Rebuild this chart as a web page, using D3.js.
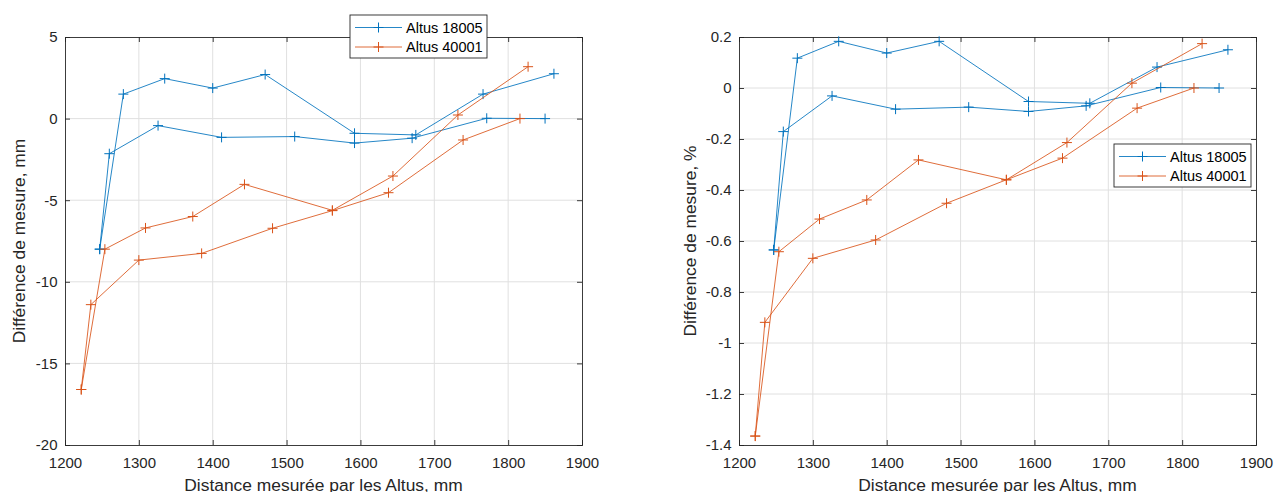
<!DOCTYPE html>
<html>
<head>
<meta charset="utf-8">
<script src="https://cdn.jsdelivr.net/npm/d3@7"></script>
<style>
  body { margin: 0; background: #fff; }
  svg { display: block; }
  svg text { font-family: "Liberation Sans", Arial, sans-serif; }
</style>
</head>
<body>
<div id="chart"></div>
<script>
// distances measured by each Altus (two runs each)
const dist18005a = [1247, 1279, 1335, 1400, 1471, 1592, 1675, 1766, 1862];
const dist18005b = [1247, 1260, 1326, 1412, 1511, 1592, 1670, 1771, 1850];
const dist40001a = [1222, 1254, 1309, 1373, 1443, 1562, 1644, 1732, 1827];
const dist40001b = [1222, 1235, 1300, 1385, 1481, 1562, 1638, 1739, 1816];

// difference in mm
const mm18005a = [-8.0, 1.5, 2.45, 1.87, 2.7, -0.9, -1.0, 1.5, 2.75];
const mm18005b = [-8.0, -2.15, -0.43, -1.15, -1.1, -1.5, -1.2, 0.02, 0.0];
const mm40001a = [-16.6, -8.0, -6.7, -6.0, -4.03, -5.62, -3.52, 0.22, 3.18];
const mm40001b = [-16.6, -11.4, -8.67, -8.26, -6.72, -5.64, -4.54, -1.31, 0.0];

// difference in %
const pct18005a = [-0.635, 0.117, 0.183, 0.137, 0.183, -0.053, -0.06, 0.082, 0.15];
const pct18005b = [-0.635, -0.171, -0.031, -0.083, -0.075, -0.092, -0.07, 0.002, 0.0];
const pct40001a = [-1.365, -0.642, -0.514, -0.439, -0.282, -0.36, -0.214, 0.019, 0.174];
const pct40001b = [-1.365, -0.919, -0.668, -0.596, -0.452, -0.36, -0.275, -0.079, 0.0];

const xTicks = [1200, 1300, 1400, 1500, 1600, 1700, 1800, 1900];
const yTicksMm = [-20, -15, -10, -5, 0, 5];
const yTicksPct = [-1.4, -1.2, -1, -0.8, -0.6, -0.4, -0.2, 0, 0.2];
const legendNames = ["Altus 18005", "Altus 40001"];
const colors = ["#0072BD", "#D95319"];

const width = 1274, height = 492;
const svg = d3.select("#chart").append("svg").attr("width", width).attr("height", height);

const zip = (xs, ys) => xs.map((d, i) => [d, ys[i]]);
const cross = "M-5,0H5M0,-5V5";
const axisColor = "#262626";

function panel(box, yTicks, yLabel, series, legendBox) {
  const x = d3.scaleLinear().domain([1200, 1900]).range([box.left, box.right]);
  const y = d3.scaleLinear().domain(d3.extent(yTicks)).range([box.bottom, box.top]);
  const g = svg.append("g");

  // grid
  g.append("g").selectAll("line").data(xTicks.slice(1, -1)).join("line")
    .attr("x1", d => x(d)).attr("x2", d => x(d))
    .attr("y1", box.top).attr("y2", box.bottom)
    .attr("stroke", "#e0e0e0").attr("stroke-width", 1);
  g.append("g").selectAll("line").data(yTicks.slice(1, -1)).join("line")
    .attr("y1", d => y(d)).attr("y2", d => y(d))
    .attr("x1", box.left).attr("x2", box.right)
    .attr("stroke", "#e0e0e0").attr("stroke-width", 1);

  // axes, ticks pointing inwards on all sides
  const fmt = d => String(d);
  g.append("g").attr("transform", `translate(0,${box.bottom})`)
    .call(d3.axisBottom(x).tickValues(xTicks).tickSize(-5).tickPadding(12).tickFormat(fmt));
  g.append("g").attr("transform", `translate(0,${box.top})`)
    .call(d3.axisTop(x).tickValues(xTicks).tickSize(-5).tickFormat(""));
  g.append("g").attr("transform", `translate(${box.left},0)`)
    .call(d3.axisLeft(y).tickValues(yTicks).tickSize(-5).tickPadding(7.5).tickFormat(fmt));
  g.append("g").attr("transform", `translate(${box.right},0)`)
    .call(d3.axisRight(y).tickValues(yTicks).tickSize(-5).tickFormat(""));
  g.selectAll(".domain, .tick line").attr("stroke", axisColor).attr("stroke-width", 0.9);
  g.selectAll(".tick text").attr("fill", axisColor).attr("font-size", 15);

  // axis labels
  g.append("text")
    .attr("x", (box.left + box.right) / 2).attr("y", 491)
    .attr("text-anchor", "middle").attr("font-size", 17.4).attr("fill", axisColor)
    .text("Distance mesurée par les Altus, mm");
  g.append("text")
    .attr("transform", `translate(${box.yLabelX},${(box.top + box.bottom) / 2}) rotate(-90)`)
    .attr("text-anchor", "middle").attr("font-size", 17.4).attr("fill", axisColor)
    .text(yLabel);

  // data
  const line = d3.line().x(d => x(d[0])).y(d => y(d[1]));
  series.forEach(s => {
    g.append("path").datum(s.pts)
      .attr("fill", "none").attr("stroke", colors[s.c]).attr("stroke-width", 1)
      .attr("stroke-opacity", 0.85).attr("d", line);
    g.append("g").selectAll("path").data(s.pts).join("path")
      .attr("transform", d => `translate(${x(d[0])},${y(d[1])})`)
      .attr("d", cross).attr("stroke", colors[s.c]).attr("stroke-width", 1);
  });

  // legend
  const lg = g.append("g").attr("transform", `translate(${legendBox.x},${legendBox.y})`);
  lg.append("rect").attr("width", legendBox.w).attr("height", 43)
    .attr("fill", "#fff").attr("stroke", axisColor).attr("stroke-width", 0.9);
  legendNames.forEach((name, i) => {
    const cy = 12.5 + i * 19.5;
    lg.append("line").attr("x1", 5).attr("x2", 52).attr("y1", cy).attr("y2", cy)
      .attr("stroke", colors[i]).attr("stroke-width", 1).attr("stroke-opacity", 0.85);
    lg.append("path").attr("transform", `translate(28.5,${cy})`).attr("d", cross)
      .attr("stroke", colors[i]).attr("stroke-width", 1);
    lg.append("text").attr("x", 56).attr("y", cy).attr("dy", "0.35em")
      .attr("font-size", 14.5).attr("fill", "#000").text(name);
  });
}

panel({left: 65, right: 582, top: 37, bottom: 445, yLabelX: 25}, yTicksMm, "Différence de mesure, mm", [
  {c: 0, pts: zip(dist18005a, mm18005a)},
  {c: 0, pts: zip(dist18005b, mm18005b)},
  {c: 1, pts: zip(dist40001a, mm40001a)},
  {c: 1, pts: zip(dist40001b, mm40001b)}
], {x: 350, y: 15, w: 137});

panel({left: 739, right: 1256, top: 37, bottom: 445, yLabelX: 696}, yTicksPct, "Différence de mesure, %", [
  {c: 0, pts: zip(dist18005a, pct18005a)},
  {c: 0, pts: zip(dist18005b, pct18005b)},
  {c: 1, pts: zip(dist40001a, pct40001a)},
  {c: 1, pts: zip(dist40001b, pct40001b)}
], {x: 1114, y: 144, w: 137});
</script>
</body>
</html>
